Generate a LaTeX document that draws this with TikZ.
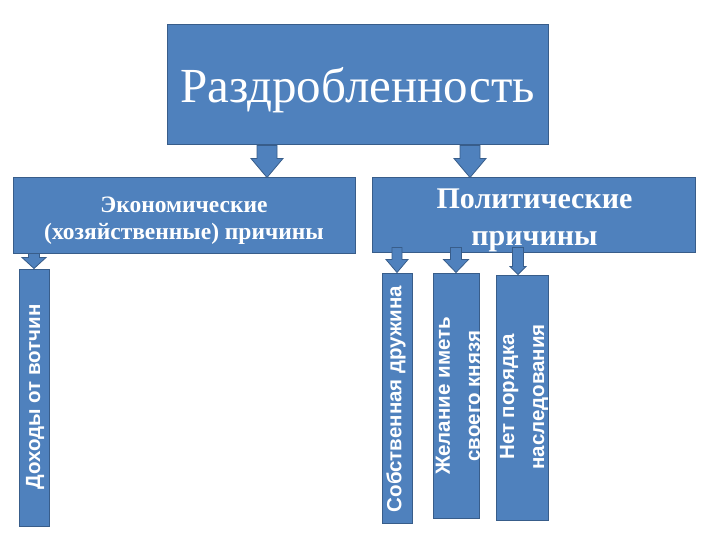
\documentclass[tikz,border=0pt]{standalone}
\usepackage{fontspec}
\setmainfont{Liberation Serif}
\newfontfamily\sansbold{Liberation Sans}
\usetikzlibrary{calc}
\definecolor{boxblue}{HTML}{4F81BD}
\definecolor{boxedge}{HTML}{385D8A}
\tikzset{
  box/.style={draw=boxedge, fill=boxblue, line width=1pt, inner sep=0pt, rectangle},
  barrow/.style={draw=boxedge, fill=boxblue, line width=0.8pt, line join=miter},
  wtext/.style={text=white, inner sep=0pt, align=center},
  vtext/.style={text=white, inner sep=0pt, align=center, rotate=90,
    font=\sansbold\bfseries\fontsize{20.5}{30}\selectfont},
}
% block arrow from #1 (top) down to y of #2 (tip); #3 shaft half width, #4 head half width, #5 head length
\newcommand\blockarr[5]{%
  \path[barrow] let \p1=(#1), \p2=(#2) in
    (\x1-#3pt,\y1) -- (\x1+#3pt,\y1) -- (\x1+#3pt,\y2+#5pt) -- (\x1+#4pt,\y2+#5pt)
    -- (\x1,\y2) -- (\x1-#4pt,\y2+#5pt) -- (\x1-#3pt,\y2+#5pt) -- cycle;}
\begin{document}
\begin{tikzpicture}[x=1pt,y=-1pt]
\useasboundingbox (0,0) rectangle (720,540);
% boxes
\node[box, minimum width=381pt, minimum height=120pt] (main) at (357.5,85) {};
\node[box, minimum width=342pt, minimum height=75pt] (econ) at (184,215.5) {};
\node[box, minimum width=323pt, minimum height=74pt] (polit) at (533.5,215) {};
\node[box, minimum width=30pt, minimum height=257pt] (dohody) at (34,397.5) {};
\node[box, minimum width=30pt, minimum height=250pt] (sobst) at (397,398) {};
\node[box, minimum width=46pt, minimum height=245pt] (zhel) at (456,395.5) {};
\node[box, minimum width=52pt, minimum height=245pt] (net) at (522,397.5) {};
% arrows
\blockarr{[xshift=-90.5pt]main.south}{econ.north}{10}{16}{19}
\blockarr{[xshift=112.5pt]main.south}{polit.north}{10}{16}{19}
\blockarr{dohody.north |- econ.south}{dohody.north}{5.5}{12}{11}
\blockarr{[yshift=5pt]sobst.north |- polit.south}{sobst.north}{5}{11}{13}
\blockarr{[yshift=5pt]zhel.north |- polit.south}{zhel.north}{5.5}{12.5}{13}
\blockarr{[xshift=-4pt,yshift=5pt]net.north |- polit.south}{[xshift=-4pt]net.north}{5.5}{8}{8}
% texts
\node[wtext, anchor=base, font=\fontsize{49}{55}\selectfont] (maint) at (357.5,103) {Раздробленность};
\node[wtext, anchor=base, font=\bfseries\fontsize{23.5}{28}\selectfont] (econt1) at (184,212) {Экономические};
\node[wtext, anchor=base, font=\bfseries\fontsize{23.5}{28}\selectfont] (econt2) at (184,240) {(хозяйственные) причины};
\node[wtext, anchor=base, font=\bfseries\fontsize{30}{37}\selectfont] (polt1) at (534.5,208) {Политические};
\node[wtext, anchor=base, font=\bfseries\fontsize{30}{37}\selectfont] (polt2) at (534.5,245) {причины};
\node[vtext] (dohodyt) at (35,397) {Доходы от вотчин};
\node[vtext] (sobstt) at (396,399) {Собственная дружина};
\node[vtext] (zhelt) at (458,396) {Желание иметь\\своего князя};
\node[vtext] (nett) at (524,397) {Нет порядка\\наследования};
\end{tikzpicture}
\end{document}
